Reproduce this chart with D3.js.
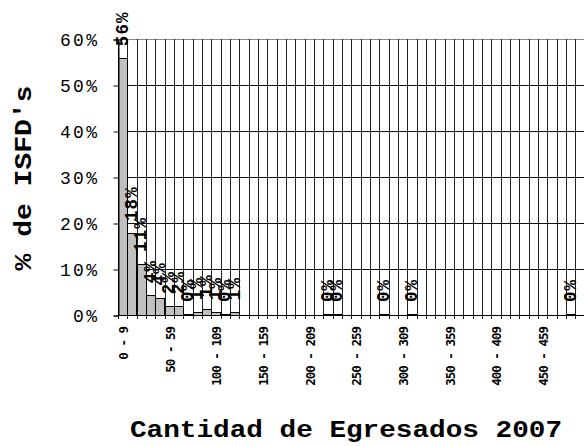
<!DOCTYPE html>
<html>
<head>
<meta charset="utf-8">
<script src="https://cdn.jsdelivr.net/npm/d3@7"></script>
<style>
  html, body { margin: 0; padding: 0; background: #fff; }
  svg { display: block; }
</style>
</head>
<body>
<div id="chart"></div>
<script>
// Categories (number of graduates, bins of 10)
const categories = [
  "0 - 9", "10 - 19", "20 - 29", "30 - 39", "40 - 49",
  "50 - 59", "60 - 69", "70 - 79", "80 - 89", "90 - 99",
  "100 - 109", "110 - 119", "120 - 129", "130 - 139", "140 - 149",
  "150 - 159", "160 - 169", "170 - 179", "180 - 189", "190 - 199",
  "200 - 209", "210 - 219", "220 - 229", "230 - 239", "240 - 249",
  "250 - 259", "260 - 269", "270 - 279", "280 - 289", "290 - 299",
  "300 - 309", "310 - 319", "320 - 329", "330 - 339", "340 - 349",
  "350 - 359", "360 - 369", "370 - 379", "380 - 389", "390 - 399",
  "400 - 409", "410 - 419", "420 - 429", "430 - 439", "440 - 449",
  "450 - 459", "460 - 469", "470 - 479", "480 - 489", "490 - 499"
];

// % of ISFD's per bin (null = empty cell, no bar / no label)
const values = [
  55.8, 17.8, 11.1, 4.3, 3.8, 1.9, 1.9, 0.2, 0.6, 1.2,
  0.6, 0.2, 0.6, null, null, null, null, null, null, null,
  null, null, 0.2, 0.2, null, null, null, null, 0.2, null,
  null, 0.2, null, null, null, null, null, null, null, null,
  null, null, null, null, null, null, null, null, 0.2, null
];

const yTicks = [0, 10, 20, 30, 40, 50, 60];
const yTickLabels = ["0%", "10%", "20%", "30%", "40%", "50%", "60%"];

const width = 584, height = 446;
const plotLeft = 118, plotRight = 584.5, plotTop = 39, plotBottom = 315;

const svg = d3.select('#chart').append('svg')
  .attr('width', width)
  .attr('height', height);

const x = d3.scaleBand()
  .domain(categories)
  .range([plotLeft, plotRight])
  .padding(0);

const y = d3.scaleLinear()
  .domain([0, 60])
  .range([plotBottom, plotTop]);

// horizontal grid
svg.append('g')
  .selectAll('line')
  .data(yTicks.slice(1))
  .join('line')
    .attr('x1', plotLeft)
    .attr('x2', width)
    .attr('y1', d => Math.round(y(d)) + 0.5)
    .attr('y2', d => Math.round(y(d)) + 0.5)
    .attr('stroke', d => d === 60 ? '#888' : '#111')
    .attr('stroke-width', 1);

// vertical grid + ticks below the axis
const bounds = categories.map(c => x(c));
svg.append('g')
  .selectAll('line')
  .data(bounds)
  .join('line')
    .attr('x1', d => Math.round(d) + 0.5)
    .attr('x2', d => Math.round(d) + 0.5)
    .attr('y1', plotTop)
    .attr('y2', plotBottom + 4)
    .attr('stroke', (d, i) => i === 0 ? '#000' : '#222')
    .attr('stroke-width', 1);

// bars
svg.append('g')
  .selectAll('rect')
  .data(categories.map((c, i) => ({c, v: values[i]})).filter(d => d.v !== null))
  .join('rect')
    .attr('x', d => Math.round(x(d.c)) + 0.5)
    .attr('width', Math.round(x.bandwidth()))
    .attr('y', d => Math.round(y(d.v)) + 0.5)
    .attr('height', d => Math.max(0, Math.round(y(0)) - Math.round(y(d.v))))
    .attr('fill', '#c0c0c0')
    .attr('stroke', '#000')
    .attr('stroke-width', 1);

// x axis line
svg.append('line')
  .attr('x1', plotLeft)
  .attr('x2', width)
  .attr('y1', Math.round(y(0)) + 0.5)
  .attr('y2', Math.round(y(0)) + 0.5)
  .attr('stroke', '#000');

// y axis
const yAxis = d3.axisLeft(y)
  .tickValues(yTicks)
  .tickFormat((d, i) => yTickLabels[i])
  .tickSize(5)
  .tickPadding(14);

const yg = svg.append('g')
  .attr('transform', `translate(${plotLeft + 0.5},0.5)`)
  .call(yAxis);
yg.select('.domain').attr('stroke', '#000');
yg.selectAll('.tick line').attr('stroke', '#000');
yg.selectAll('.tick text')
  .attr('font-family', '"Liberation Mono", "Courier New", monospace')
  .attr('font-size', 18)
  .attr('letter-spacing', 2.4)
  .attr('fill', '#000');

// x tick labels, every 5th bin
svg.append('g')
  .selectAll('text')
  .data(categories.filter((c, i) => i % 5 === 0))
  .join('text')
    .attr('transform', d => `translate(${x(d) + x.bandwidth() / 2 + 1},${plotBottom + 12}) rotate(-90)`)
    .attr('text-anchor', 'end')
    .attr('dy', '0.35em')
    .attr('font-family', '"DejaVu Sans Mono", monospace')
    .attr('font-size', 12.5)
    .attr('font-weight', 'bold')
    .attr('letter-spacing', -1)
    .attr('fill', '#000')
    .text(d => d);

// data labels
svg.append('g')
  .selectAll('text')
  .data(categories.map((c, i) => ({c, v: values[i]})).filter(d => d.v !== null))
  .join('text')
    .attr('transform', d => `translate(${x(d.c) + x.bandwidth() / 2 - 1},${y(d.v) - 12}) rotate(-90)`)
    .attr('text-anchor', 'start')
    .attr('dy', '0.35em')
    .attr('font-family', '"Liberation Mono", "Courier New", monospace')
    .attr('font-size', 17.5)
    .attr('font-weight', 'bold')
    .attr('letter-spacing', 1.2)
    .attr('fill', '#000')
    .text(d => Math.round(d.v) + '%');

// y axis title
svg.append('text')
  .attr('transform', 'translate(23,178) rotate(-90)')
  .attr('text-anchor', 'middle')
  .attr('dy', '0.35em')
  .attr('font-family', '"Liberation Mono", "Courier New", monospace')
  .attr('font-size', 24)
  .attr('font-weight', 'bold')
  .attr('textLength', 185)
  .attr('lengthAdjust', 'spacingAndGlyphs')
  .attr('fill', '#000')
  .text("% de ISFD's");

// x axis title
svg.append('text')
  .attr('x', 346)
  .attr('y', 437)
  .attr('text-anchor', 'middle')
  .attr('font-family', '"Liberation Mono", "Courier New", monospace')
  .attr('font-size', 23)
  .attr('font-weight', 'bold')
  .attr('textLength', 432)
  .attr('lengthAdjust', 'spacingAndGlyphs')
  .attr('fill', '#000')
  .text('Cantidad de Egresados 2007');
</script>
</body>
</html>
